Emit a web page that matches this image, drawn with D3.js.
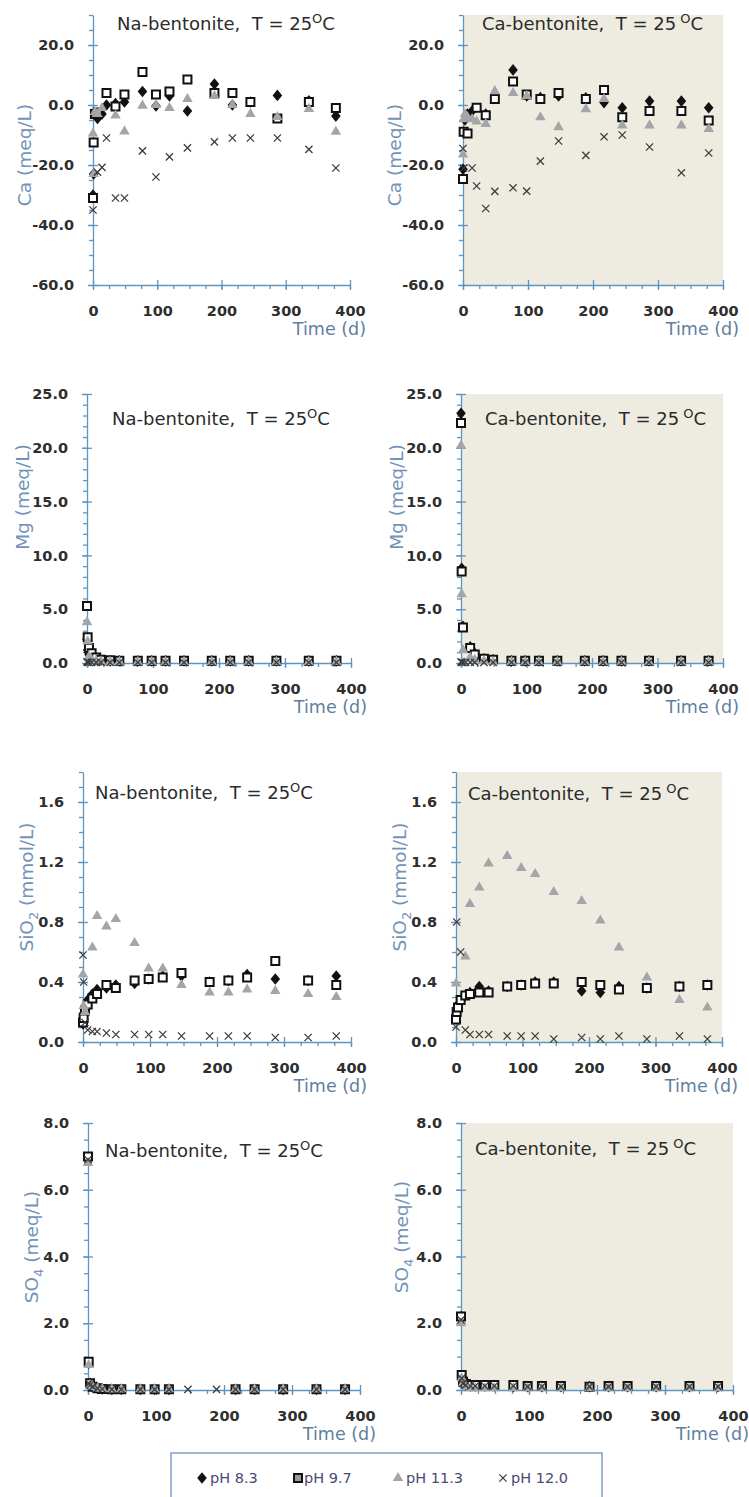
<!DOCTYPE html>
<html><head><meta charset="utf-8">
<script src="https://cdn.jsdelivr.net/npm/d3@7"></script>
<style>
body{margin:0;background:#fff;}
svg{display:block;}
text{font-family:"DejaVu Sans",sans-serif;}
</style></head><body>
<svg id="chart" width="749" height="1497"></svg>
<script>
// ---------- DATA ----------
const days = [0, 1, 3, 7, 14, 21, 35, 49, 77, 98, 119, 147, 189, 217, 245, 287, 336, 378];
const seriesNames = ["pH 8.3", "pH 9.7", "pH 11.3", "pH 12.0"];
const xTicks = [0, 100, 200, 300, 400];

// Ca (meq/L)
const naCa83 = [-30, -23, null, -4.5, -3, 0, 0.5, 1, 4.5, -0.3, 3, -2, 7, 0, 1, 3.2, 1.4, -3.7];
const naCa97 = [-31, -12.5, -3, -2.5, null, 4, -0.5, 3.5, 11, 3.5, 4.5, 8.5, 4, 4, 1, -4.5, 1, -1];
const naCa113 = [-9.5, -23, -2.3, -3, -1, null, -3.5, -8.8, -0.2, 0, -1, 2, 3, 0, -3, -4, -1.3, -8.9];
const naCa120 = [-35, null, null, -22.4, -20.8, -11, -31, -31, -15.3, -24, -17.3, -14.3, -12.3, -11, -11, -11, -14.8, -21];
const caCa83 = [-21.4, -9, -5, -3, -2, null, -3, 3, 11.7, 3, 2.5, 3, 2.4, 0.8, -0.9, 1.3, 1.3, -0.9];
const caCa97 = [-24.7, -8.9, null, -9.5, null, -0.9, -3.4, 2, 7.8, 3.5, 2, 4, 2, 5, -4.1, -2, -2, -5.2];
const caCa113 = [-16.5, -4.7, -3, -4, -4.7, -5.5, -6.3, 4.6, 4, 3, -4.1, -7.4, -1.4, 2, -6.8, -6.8, -6.8, -8];
const caCa120 = [-14.5, -21, null, null, -21, -27, -34.5, -28.8, -27.6, -28.7, -18.7, -12, -16.8, -10.6, -10, -14, -22.6, -16];

// Mg (meq/L)
const naMg83 = [2.2, 1.2, 0.8, 0.5, 0.3, 0.25, 0.2, 0.2, 0.2, 0.2, 0.2, 0.2, 0.2, 0.2, 0.2, 0.2, 0.2, 0.2];
const naMg97 = [5.3, 2.4, 1.4, 0.9, 0.5, 0.3, 0.25, 0.2, 0.2, 0.2, 0.2, 0.2, 0.2, 0.2, 0.2, 0.2, 0.2, 0.2];
const naMg113 = [3.8, 2.0, 0.6, 0.3, 0.2, 0.15, 0.1, 0.1, 0.1, 0.1, 0.1, 0.1, 0.1, 0.1, 0.1, 0.1, 0.1, 0.1];
const naMg120 = [0.1, 0.05, 0.05, 0.05, 0.05, 0.05, 0.05, 0.05, 0.05, 0.05, 0.05, 0.05, 0.05, 0.05, 0.05, 0.05, 0.05, 0.05];
const caMg83 = [23.2, 8.8, 3.4, null, 1.5, 0.9, 0.4, 0.3, 0.2, 0.2, 0.2, 0.2, 0.2, 0.2, 0.2, 0.2, 0.2, 0.2];
const caMg97 = [22.3, 8.5, 3.3, null, 1.4, 0.8, 0.4, 0.3, 0.2, 0.2, 0.2, 0.2, 0.2, 0.2, 0.2, 0.2, 0.2, 0.2];
const caMg113 = [20.2, 6.4, 1.2, null, 0.5, 0.3, 0.2, 0.1, 0.1, 0.1, 0.1, 0.1, 0.1, 0.1, 0.1, 0.1, 0.1, 0.1];
const caMg120 = [0.1, 0.05, 0.05, 0.05, 0.05, 0.05, 0.05, 0.05, 0.05, 0.05, 0.05, 0.05, 0.05, 0.05, 0.05, 0.05, 0.05, 0.05];

// SiO2 (mmol/L)
const naSi83 = [0.12, 0.18, 0.24, 0.28, 0.32, 0.35, 0.36, 0.38, 0.39, 0.42, 0.44, 0.44, 0.4, 0.41, 0.45, 0.42, 0.41, 0.44];
const naSi97 = [0.13, 0.16, 0.21, 0.25, 0.29, 0.32, 0.38, 0.36, 0.41, 0.42, 0.43, 0.46, 0.4, 0.41, 0.43, 0.54, 0.41, 0.38];
const naSi113 = [0.45, 0.24, 0.2, null, 0.63, 0.84, 0.77, 0.82, 0.66, 0.49, 0.49, 0.38, 0.33, 0.33, 0.35, 0.34, 0.32, 0.3];
const naSi120 = [0.58, 0.4, 0.13, 0.08, 0.07, 0.07, 0.06, 0.05, 0.05, 0.05, 0.05, 0.04, 0.04, 0.04, 0.04, 0.03, 0.03, 0.04];
const caSi83 = [0.18, 0.22, 0.25, 0.28, 0.31, 0.33, 0.37, 0.34, 0.37, 0.38, 0.4, 0.4, 0.34, 0.33, 0.37, 0.36, 0.37, 0.38];
const caSi97 = [0.15, 0.2, 0.23, 0.28, 0.31, 0.32, 0.33, 0.33, 0.37, 0.38, 0.39, 0.39, 0.4, 0.38, 0.35, 0.36, 0.37, 0.38];
const caSi113 = [0.39, null, null, null, 0.57, 0.92, 1.03, 1.19, 1.24, 1.16, 1.12, 1.0, 0.94, 0.81, 0.63, 0.43, 0.28, 0.23];
const caSi120 = [0.1, 0.8, null, 0.6, 0.08, 0.05, 0.05, 0.05, 0.04, 0.04, 0.04, 0.02, 0.03, 0.02, 0.04, 0.02, 0.04, 0.02];

// SO4 (meq/L)
const naSo83 = [6.9, 0.8, 0.2, 0.1, 0.05, 0.03, 0.02, 0.02, 0.02, 0.02, 0.02, null, null, 0.02, 0.02, 0.02, 0.02, 0.02];
const naSo97 = [7.0, 0.85, 0.2, 0.1, 0.05, 0.03, 0.02, 0.02, 0.02, 0.02, 0.02, null, null, 0.02, 0.02, 0.02, 0.02, 0.02];
const naSo113 = [6.8, 0.75, 0.15, 0.1, 0.05, 0.03, 0.02, 0.02, 0.02, 0.02, 0.02, null, null, 0.02, 0.02, 0.02, 0.02, 0.02];
const naSo120 = [6.9, 0.2, 0.15, 0.1, 0.05, 0.03, 0.02, 0.02, 0.02, 0.02, 0.02, 0.02, 0.02, 0.02, 0.02, 0.02, 0.02, 0.02];
const caSo83 = [2.2, 0.4, 0.25, 0.15, 0.12, 0.12, 0.12, 0.12, 0.1, 0.1, 0.1, 0.1, 0.1, 0.1, 0.1, 0.1, 0.1, 0.1];
const caSo97 = [2.2, 0.45, 0.25, 0.18, 0.15, 0.15, 0.15, 0.15, 0.15, 0.12, 0.12, 0.12, 0.1, 0.12, 0.12, 0.12, 0.12, 0.12];
const caSo113 = [2.0, 0.35, 0.2, 0.1, 0.05, 0.05, 0.05, 0.05, 0.05, 0.05, 0.05, 0.05, 0.05, 0.05, 0.05, 0.05, 0.05, 0.05];
const caSo120 = [2.1, 0.35, 0.2, 0.15, 0.12, 0.12, 0.12, 0.12, 0.12, 0.1, 0.1, 0.1, 0.1, 0.1, 0.1, 0.1, 0.1, 0.1];

// ---------- LAYOUT ----------
const rows = [
  {yDomain: [-60, 30], major: [-60, -40, -20, 0, 20], minor: 5, yTop: 15, yBot: 285, label: ["Ca (meq/L)"]},
  {yDomain: [0, 25], major: [0, 5, 10, 15, 20, 25], minor: 1, yTop: 394, yBot: 663, label: ["Mg (meq/L)"]},
  {yDomain: [0, 1.8], major: [0, 0.4, 0.8, 1.2, 1.6], minor: 0.1, yTop: 772, yBot: 1042, label: ["SiO", "2", " (mmol/L)"]},
  {yDomain: [0, 8], major: [0, 2, 4, 6, 8], minor: 0.5, yTop: 1123, yBot: 1390, label: ["SO", "4", " (meq/L)"]}
];
const panels = [
  {row: 0, x0: 93, x1: 350, bg: false, name: "Na-bentonite,", sup: "O", tX: 117, tY: 23, lX: 31, lY: 155, data: [naCa83, naCa97, naCa113, naCa120]},
  {row: 0, x0: 463, x1: 723, bg: true, name: "Ca-bentonite,", sup: " O", tX: 482, tY: 23, lX: 401, lY: 155, data: [caCa83, caCa97, caCa113, caCa120]},
  {row: 1, x0: 87, x1: 351, bg: false, name: "Na-bentonite,", sup: "O", tX: 112, tY: 418, lX: 29, lY: 497, data: [naMg83, naMg97, naMg113, naMg120]},
  {row: 1, x0: 461, x1: 723, bg: true, name: "Ca-bentonite,", sup: " O", tX: 485, tY: 418, lX: 403, lY: 497, data: [caMg83, caMg97, caMg113, caMg120]},
  {row: 2, x0: 83, x1: 351, bg: false, name: "Na-bentonite,", sup: "O", tX: 95, tY: 792, lX: 33, lY: 887, data: [naSi83, naSi97, naSi113, naSi120]},
  {row: 2, x0: 456, x1: 722, bg: true, name: "Ca-bentonite,", sup: " O", tX: 468, tY: 793, lX: 406, lY: 887, data: [caSi83, caSi97, caSi113, caSi120]},
  {row: 3, x0: 88, x1: 360, bg: false, name: "Na-bentonite,", sup: "O", tX: 105, tY: 1150, lX: 38, lY: 1247, data: [naSo83, naSo97, naSo113, naSo120]},
  {row: 3, x0: 461, x1: 733, bg: true, name: "Ca-bentonite,", sup: " O", tX: 475, tY: 1148, lX: 408, lY: 1237, data: [caSo83, caSo97, caSo113, caSo120]}
];

const AXIS = "#5b96c4", TXT = "#2e2e2e", YLAB = "#7393b8";
const FONT = '"DejaVu Sans", sans-serif';

const svg = d3.select("#chart");

// marker types
const diamond = {draw(ctx){ const w = 4.8, h = 5.8; ctx.moveTo(0, -h); ctx.lineTo(w, 0); ctx.lineTo(0, h); ctx.lineTo(-w, 0); ctx.closePath(); }};
const square = {draw(ctx){ ctx.rect(-4, -4, 8, 8); }};
const cross = {draw(ctx){ const r = 3.6; ctx.moveTo(-r, -r); ctx.lineTo(r, r); ctx.moveTo(r, -r); ctx.lineTo(-r, r); }};
const markerStyles = [
  {type: diamond, size: 1, fill: "#111", stroke: "none", sw: 0},
  {type: square, size: 1, fill: "#ffffff", stroke: "#111", sw: 2},
  {type: d3.symbolTriangle, size: 48, fill: "#a3a6a8", stroke: "none", sw: 0},
  {type: cross, size: 1, fill: "none", stroke: "#3d3d3d", sw: 1.3}
];
function markerPath(i){ return d3.symbol().type(markerStyles[i].type).size(markerStyles[i].size)(); }

function styleAxis(s){
  s.selectAll("line").attr("stroke", AXIS).attr("stroke-width", 1.3);
  s.selectAll("path.domain").attr("stroke", AXIS).attr("stroke-width", 1.3);
}
function styleTicks(s){
  s.selectAll("text").attr("fill", TXT).attr("font-size", 14.5).attr("font-weight", 700)
    .attr("font-family", FONT);
}

panels.forEach(p => {
  const r = rows[p.row];
  const x = d3.scaleLinear().domain([0, 400]).range([p.x0, p.x1]);
  const y = d3.scaleLinear().domain(r.yDomain).range([r.yBot, r.yTop]);
  const g = svg.append("g");
  if (p.bg) {
    g.append("rect").attr("x", p.x0).attr("y", r.yTop)
      .attr("width", p.x1 - p.x0).attr("height", r.yBot - r.yTop)
      .attr("fill", "#eeece1");
  }
  const yMinor = d3.range(r.yDomain[0], r.yDomain[1] + 1e-9, r.minor);
  const xMinor = d3.range(0, 401, 25);
  g.append("g").attr("transform", `translate(${p.x0},0)`)
    .call(d3.axisLeft(y).tickValues(yMinor).tickSize(4).tickSizeOuter(0).tickFormat(""))
    .call(s => s.select(".domain").remove()).call(styleAxis);
  g.append("g").attr("transform", `translate(${p.x0},0)`)
    .call(d3.axisRight(y).tickValues(r.major).tickSize(5).tickSizeOuter(0).tickFormat(""))
    .call(s => s.select(".domain").remove()).call(styleAxis);
  g.append("g").attr("transform", `translate(${p.x0},0)`)
    .call(d3.axisLeft(y).tickValues(r.major).tickSize(5).tickSizeOuter(0).tickPadding(14)
      .tickFormat(d => d.toFixed(1)))
    .call(styleAxis).call(styleTicks);
  g.append("g").attr("transform", `translate(0,${r.yBot})`)
    .call(d3.axisBottom(x).tickValues(xMinor).tickSize(4).tickSizeOuter(0).tickFormat(""))
    .call(s => s.select(".domain").remove()).call(styleAxis);
  g.append("g").attr("transform", `translate(0,${r.yBot})`)
    .call(d3.axisTop(x).tickValues(xTicks).tickSize(5).tickSizeOuter(0).tickFormat(""))
    .call(s => s.select(".domain").remove()).call(styleAxis);
  g.append("g").attr("transform", `translate(0,${r.yBot})`)
    .call(d3.axisBottom(x).tickValues(xTicks).tickSize(5).tickSizeOuter(0).tickPadding(16).tickFormat(d3.format("d")))
    .call(styleAxis).call(styleTicks);

  // x title
  g.append("text").attr("x", p.x1 + 16).attr("y", r.yBot + 50)
    .attr("text-anchor", "end").attr("fill", "#5f7f9f").attr("font-size", 17.5)
    .text("Time (d)");

  // y title
  const yl = g.append("text").attr("transform", `translate(${p.lX},${p.lY}) rotate(-90)`)
    .attr("text-anchor", "middle").attr("fill", YLAB).attr("font-size", 18.5);
  if (r.label.length === 1) yl.text(r.label[0]);
  else {
    yl.append("tspan").text(r.label[0]);
    yl.append("tspan").attr("font-size", 13).attr("dy", 5).text(r.label[1]);
    yl.append("tspan").attr("dy", -5).text(r.label[2]);
  }

  // panel title
  const t = g.append("text").attr("x", p.tX).attr("y", p.tY + 7)
    .attr("fill", "#2b2b2b").attr("font-size", 18).style("white-space", "pre");
  t.append("tspan").text(p.name + "  T = 25");
  t.append("tspan").attr("font-size", 13).attr("dy", -7).text(p.sup);
  t.append("tspan").attr("dy", 7).text("C");

  // markers
  p.data.forEach((vals, si) => {
    const st = markerStyles[si];
    const pts = days.map((d, i) => ({t: d, v: vals[i]})).filter(d => d.v !== null);
    g.append("g").selectAll("path").data(pts).join("path")
      .attr("transform", d => `translate(${x(d.t)},${y(d.v)})`)
      .attr("d", markerPath(si))
      .attr("fill", st.fill).attr("stroke", st.stroke).attr("stroke-width", st.sw);
  });
});

// ---------- LEGEND ----------
const lg = svg.append("g");
lg.append("rect").attr("x", 171).attr("y", 1453).attr("width", 431).attr("height", 70)
  .attr("fill", "#fff").attr("stroke", "#7f9fbf").attr("stroke-width", 1.5);
const legendX = [202, 298, 398, 503];
seriesNames.forEach((nm, i) => {
  const st = markerStyles[i];
  lg.append("path").attr("transform", `translate(${legendX[i]},1478)`)
    .attr("d", markerPath(i))
    .attr("fill", i === 1 ? "#9a9a9a" : st.fill).attr("stroke", st.stroke).attr("stroke-width", st.sw);
  lg.append("text").attr("x", legendX[i] + (i === 1 ? 6 : 8)).attr("y", 1483)
    .attr("fill", "#4a4a72").attr("font-size", 14.5).text(nm);
});
</script></body></html>
